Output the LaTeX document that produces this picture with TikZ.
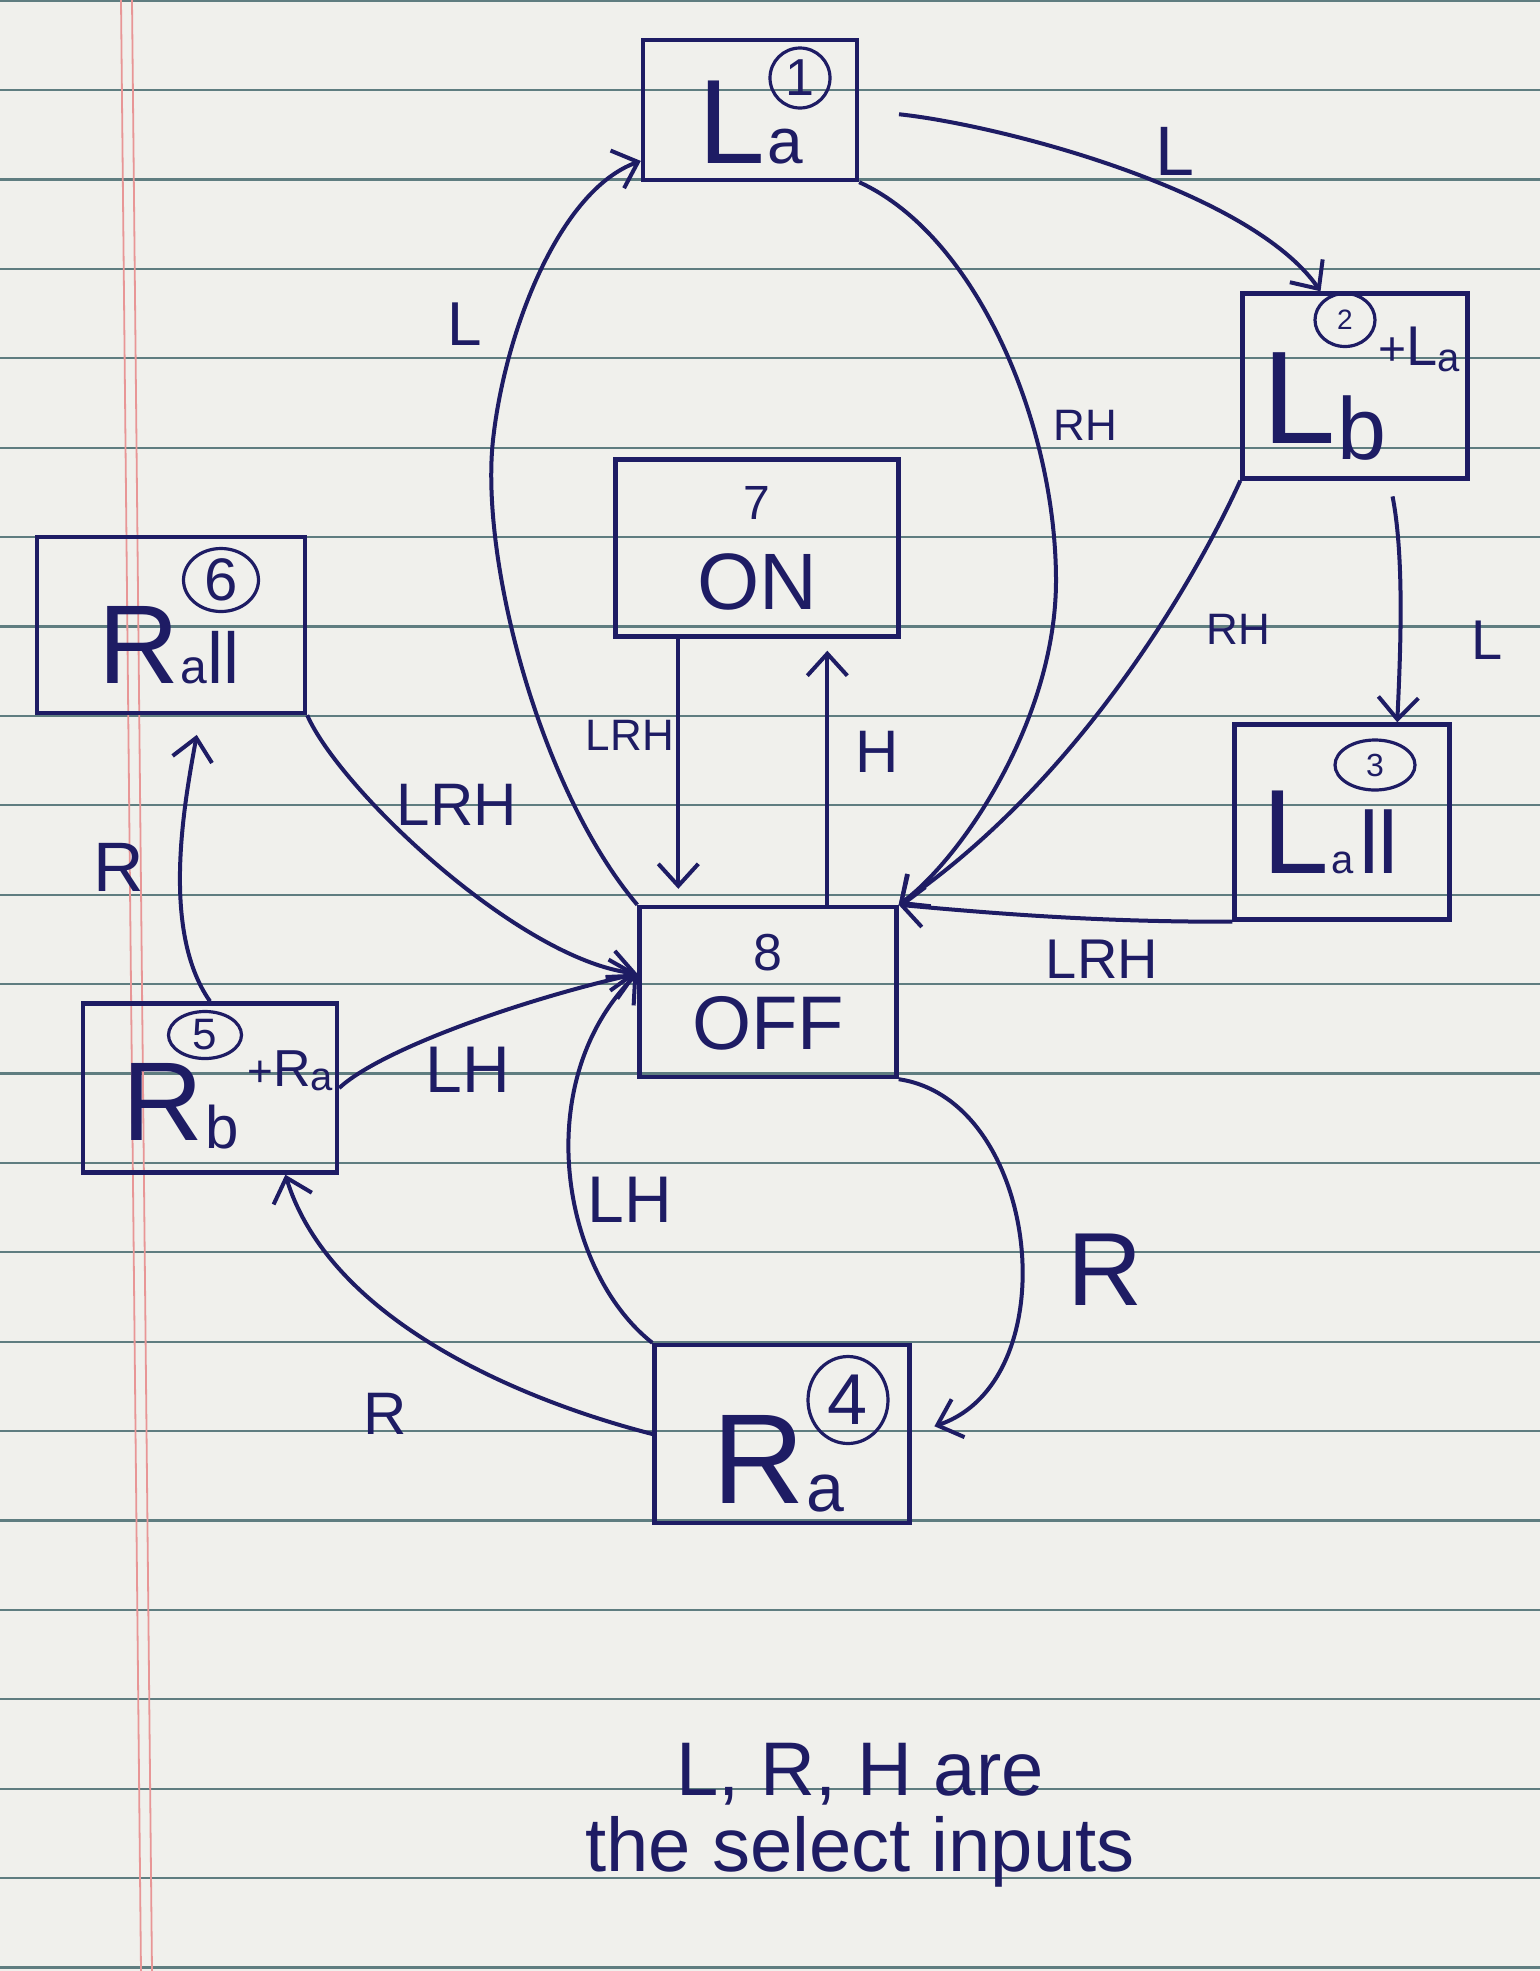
\documentclass[tikz,border=0pt]{standalone}
\usepackage{fontspec}
\setmainfont{Liberation Sans}
\usetikzlibrary{arrows.meta,shapes.geometric}
\definecolor{ink}{RGB}{30,28,100}
\definecolor{paper}{RGB}{240,240,236}
\definecolor{ruleline}{RGB}{95,125,128}
\definecolor{marginred}{RGB}{232,150,150}
\newcommand\fsz[1]{\fontsize{#1}{#1}\selectfont}
\tikzset{
  box/.style={draw=ink, line width=2.2pt, rectangle, inner sep=0pt, text=ink, align=center},
  txt/.style={text=ink, inner sep=0pt, anchor=base west},
  num/.style={ellipse, draw=ink, line width=1.6pt, inner sep=0pt, text=ink},
  lbl/.style={text=ink, inner sep=1pt},
  arr/.style={draw=ink, line width=2pt, -{Straight Barb[length=11pt,width=20pt]}},
  paperline/.style={draw=ruleline, line width=1.1pt},
  marginline/.style={draw=marginred, line width=0.9pt},
}
\begin{document}
\begin{tikzpicture}[x=0.5pt,y=-0.5pt]
\useasboundingbox (0,0) rectangle (1540,1971);
\fill[paper] (0,0) rectangle (1540,1971);
\foreach \k in {-1,...,21} \draw[paperline] (0,{90+89.4*\k}) -- (1540,{90+89.4*\k});
\draw[marginline] (121,0) -- (141,1971);
\draw[marginline] (132,0) -- (152,1971);

% state boxes
\node[box, minimum width=107pt, minimum height=70pt] (La) at (750,110) {};
\node[box, minimum width=112.5pt, minimum height=92.5pt] (Lb) at (1355,386) {};
\node[box, minimum width=141.5pt, minimum height=88.5pt] (ON) at (757,548) {\fsz{24}7\\[16pt]\fsz{40}ON};
\node[box, minimum width=134pt, minimum height=88pt] (Rall) at (171,625) {};
\node[box, minimum width=107.5pt, minimum height=97.5pt] (Lall) at (1342,822) {};
\node[box, minimum width=128.5pt, minimum height=85pt] (OFF) at (768,992) {\fsz{26}8\\[12pt]\fsz{38}OFF};
\node[box, minimum width=127pt, minimum height=84.5pt] (Rb) at (210,1088) {};
\node[box, minimum width=127.5pt, minimum height=89pt] (Ra) at (782,1434) {};

% state texts
\node[txt, font=\fsz{60}] (tLa) at (698,163) {L};
\node[txt, font=\fsz{32}] (sLa) at (767,163) {a};
\node[num, minimum width=30pt, minimum height=30pt, font=\fsz{26}] (n1) at (800,78) {1};

\node[txt, font=\fsz{66}] (tLb) at (1262,443) {L};
\node[txt, font=\fsz{44}] (sLb) at (1337,459) {b};
\node[txt] (tLbp) at (1378,365) {\fsz{24}+\fsz{28}L\raisebox{-3pt}{\fsz{20}a}};
\node[num, minimum width=30pt, minimum height=26.5pt, font=\fsz{14}] (n2) at (1345,320) {2};

\node[txt, font=\fsz{60}] (tLall) at (1262,873) {L};
\node[txt, font=\fsz{20}] (sLall) at (1331,873) {a};
\node[txt, font=\fsz{44}] (tLall2) at (1359,873) {ll};
\node[num, minimum width=40pt, minimum height=25pt, font=\fsz{16}] (n3) at (1375,765) {3};

\node[txt, font=\fsz{56}] (tRall) at (98,683) {R};
\node[txt] (sRall) at (180,683) {\fsz{24}a\fsz{36}ll};
\node[num, minimum width=37.5pt, minimum height=31.5pt, font=\fsz{30}] (n6) at (221,580) {6};

\node[txt, font=\fsz{56}] (tRb) at (122,1140) {R};
\node[txt, font=\fsz{30}] (sRb) at (205,1148) {b};
\node[txt] (tRbp) at (247,1086) {\fsz{22}+\fsz{26}R\raisebox{-2pt}{\fsz{20}a}};
\node[num, minimum width=36.5pt, minimum height=23.5pt, font=\fsz{22}] (n5) at (205,1035) {5};

\node[txt, font=\fsz{64}] (tRa) at (712,1503) {R};
\node[txt, font=\fsz{34}] (sRa) at (806,1511) {a};
\node[num, minimum width=40pt, minimum height=43.5pt, font=\fsz{36}] (n4) at (848,1400) {4};

% connectors
\draw[arr] (OFF.north west) .. controls (540,790) and (480,560) .. (493,440) .. controls (505,330) and (560,190) .. (La.205);
\node[lbl, font=\fsz{31}] (lL1) at (465,324) {L};

\draw[arr, shorten <=20pt] (La.east) .. controls (1000,125) and (1250,190) .. (Lb.110);
\node[lbl, font=\fsz{35}] (lL2) at (1175,151) {L};

\draw[arr] (La.south east) .. controls (975,235) and (1055,420) .. (1056,578) .. controls (1057,720) and (960,860) .. (OFF.north east);
\node[lbl, font=\fsz{22}] (lRH1) at (1085,425) {RH};

\draw[arr] (Lb.south west) .. controls (1195,580) and (1080,780) .. (OFF.north east);
\node[lbl, font=\fsz{22}] (lRH2) at (1238,629) {RH};

\draw[arr, shorten <=8pt] (Lb.290) .. controls (1405,560) and (1400,660) .. (Lall.61);
\node[lbl, font=\fsz{28}] (lL3) at (1487,640) {L};

\draw[arr] (Lall.south west) .. controls (1100,922) and (1000,914) .. (OFF.north east);
\node[lbl, font=\fsz{28}] (lLRH3) at (1102,959) {LRH};

\draw[arr, shorten >=8pt] ([xshift=32.5pt]ON.south west) coordinate (s7) -- (s7 |- OFF.north);
\node[lbl, font=\fsz{22}] (lLRH1) at (630,735) {LRH};

\draw[arr, shorten >=6pt] ([xshift=95pt]OFF.north west) coordinate (s8) -- (s8 |- ON.south);
\node[lbl, font=\fsz{30}] (lH) at (877,752) {H};

\draw[arr] (Rall.south east) .. controls (340,790) and (520,960) .. (OFF.172);
\node[lbl, font=\fsz{30}] (lLRH2) at (457,805) {LRH};

\draw[arr, shorten >=10pt] (Rb.north) .. controls (160,930) and (185,800) .. (Rall.288);
\node[lbl, font=\fsz{35}] (lR1) at (119,867) {R};

\draw[arr] (Rb.east) .. controls (380,1050) and (520,1000) .. (OFF.172);
\node[lbl, font=\fsz{33}] (lLH1) at (468,1070) {LH};

\draw[arr] (Ra.north west) .. controls (560,1270) and (530,1080) .. (OFF.172);
\node[lbl, font=\fsz{33}] (lLH2) at (630,1200) {LH};

\draw[arr, shorten >=12pt] (OFF.south east) .. controls (1040,1100) and (1070,1380) .. (Ra.east);
\node[lbl, font=\fsz{52}] (lR2) at (1105,1270) {R};

\draw[arr] (Ra.west) .. controls (520,1400) and (330,1320) .. (Rb.311);
\node[lbl, font=\fsz{30}] (lR3) at (385,1414) {R};

% caption
\node[lbl, align=center, font=\fsz{38}] (cap) at (860,1815) {L, R, H are\\the select inputs};
\end{tikzpicture}
\end{document}
